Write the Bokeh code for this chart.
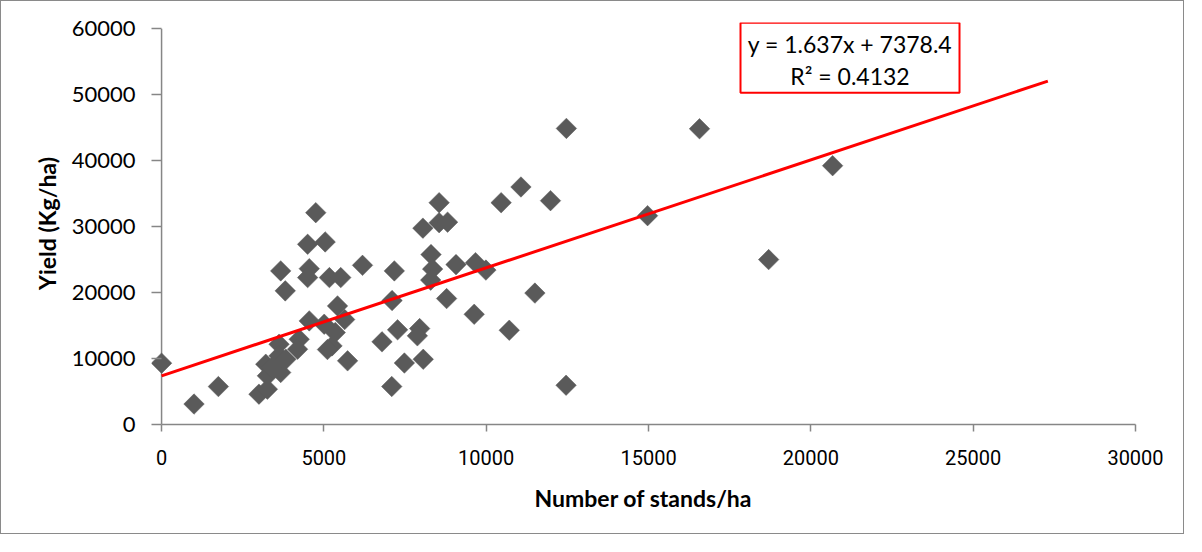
import math
from bokeh.plotting import figure
from bokeh.models import Range1d, Label, FixedTicker, BoxAnnotation
from bokeh.embed import file_html
from bokeh.resources import INLINE

# ---- data ----
stands = [0, 1000, 1750, 3000, 3260, 3210, 3260, 3620, 3670, 3620, 3830, 3390,
          4240, 4190, 4550, 5010, 5250, 5350, 5420, 5640, 5730, 4750, 4500, 5040,
          3670, 4550, 4500, 5170, 5520, 3810, 6190, 7170, 7100, 6790, 7270, 7950,
          7880, 7480, 8060, 7090, 8050, 8550, 8550, 8810, 8300, 8350, 8290, 8780,
          9070, 9670, 9990, 9630, 10460, 11070, 11980, 11500, 10710, 12460, 12470,
          14970, 16570, 18700, 20670, 5110]
yield_kg = [9300, 3100, 5750, 4600, 5350, 9140, 7380, 12170, 7880, 10410, 9890, 8640,
            12920, 11410, 15710, 15200, 11920, 13940, 17980, 15910, 9650, 32120, 27320, 27680,
            23290, 23630, 22270, 22270, 22270, 20260, 24130, 23290, 18790, 12530, 14350, 14540,
            13440, 9320, 9890, 5760, 29770, 33630, 30600, 30680, 25760, 23560, 21890, 19090,
            24240, 24540, 23410, 16710, 33630, 36010, 33940, 19920, 14290, 5950, 44890,
            31660, 44840, 25000, 39240, 11360]

x_ticks = [0, 5000, 10000, 15000, 20000, 25000, 30000]
y_ticks = [0, 10000, 20000, 30000, 40000, 50000, 60000]

slope = 1.637
intercept = 7378.4
r_squared = 0.4132
trend_x = [0, 27300]
trend_y = [slope * v + intercept for v in trend_x]

eq_line1 = "y = 1.637x + 7378.4"
eq_line2 = "R\u00b2 = 0.4132"

# ---- figure ----
p = figure(width=1184, height=534, output_backend="svg", toolbar_location=None,
           x_range=Range1d(-310, x_ticks[-1]), y_range=Range1d(0, 60950),
           min_border_left=150, min_border_right=50, min_border_top=21,
           min_border_bottom=111)
p.styles = {"border": "1px solid #8a8a8a"}
p.outline_line_color = None
p.xgrid.grid_line_color = None
p.ygrid.grid_line_color = None
p.background_fill_color = "white"
p.border_fill_color = "white"

axis_gray = "#868686"

# vertical axis line at x = 0
p.segment(x0=[x_ticks[0]], y0=[y_ticks[0]], x1=[x_ticks[0]], y1=[y_ticks[-1]],
          line_color=axis_gray, line_width=1.5)

p.scatter(stands, yield_kg, marker="square", angle=math.pi / 4, size=14.5,
          fill_color="#5a5a5a", line_color="#5a5a5a", line_width=0.5)
p.line(trend_x, trend_y, line_color="#ff0000", line_width=3)

for ax in (p.xaxis[0], p.yaxis[0]):
    ax.axis_line_color = axis_gray
    ax.axis_line_width = 1.5
    ax.major_tick_line_color = axis_gray
    ax.major_tick_line_width = 1.5
    ax.minor_tick_line_color = None
    ax.major_label_text_color = "black"
    ax.axis_label_text_color = "black"
    ax.axis_label_text_font = "Lato"
    ax.axis_label_text_font_style = "bold"
    ax.axis_label_text_font_size = "23px"

p.xaxis.ticker = FixedTicker(ticks=x_ticks)
p.yaxis.ticker = FixedTicker(ticks=y_ticks)
p.xaxis.bounds = (x_ticks[0], x_ticks[-1])
p.yaxis.bounds = (y_ticks[0], y_ticks[-1])
p.yaxis.axis_line_color = None
p.xaxis.major_tick_in = 0
p.xaxis.major_tick_out = 7
p.yaxis.major_tick_in = 10
p.yaxis.major_tick_out = 0
p.xaxis.major_label_text_font = "Liberation Sans Narrow, Roboto, sans-serif"
p.xaxis.major_label_text_font_size = "20px"
p.yaxis.major_label_text_font = "Lato"
p.yaxis.major_label_text_font_size = "22px"
p.xaxis.major_label_standoff = 18
p.yaxis.major_label_standoff = 16
p.xaxis.axis_label = "Number of stands/ha"
p.yaxis.axis_label = "Yield (Kg/ha)"
p.xaxis.axis_label_standoff = 16
p.yaxis.axis_label_standoff = 8

# equation box
box = BoxAnnotation(left=17833, right=24579, bottom=50298, top=60903,
                    fill_color="white", fill_alpha=1.0,
                    line_color="#ff0000", line_alpha=1.0, line_width=2)
p.add_layout(box)
for txt, yy in ((eq_line1, 57615), (eq_line2, 52874)):
    p.add_layout(Label(x=21206, y=yy, text=txt, text_align="center",
                       text_baseline="middle", text_font="Lato",
                       text_font_size="23px", text_color="black"))

open("out.html", "w").write(file_html(p, INLINE))
